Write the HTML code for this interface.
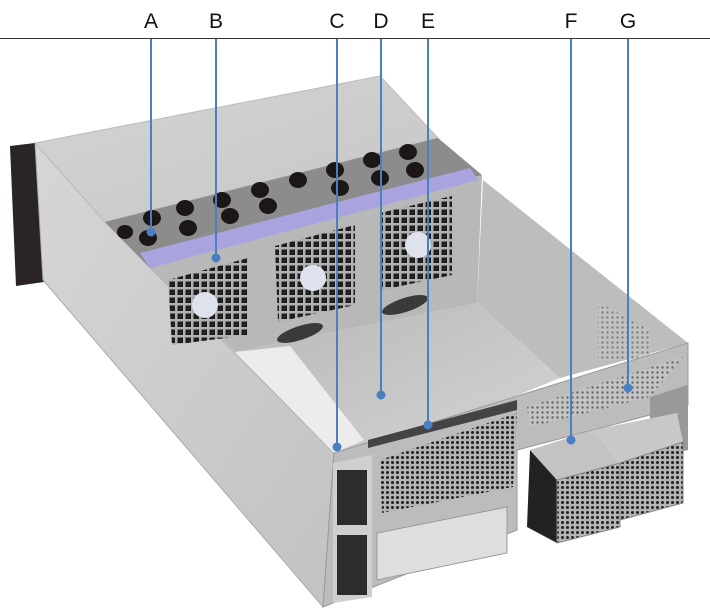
<!DOCTYPE html>
<html><head><meta charset="utf-8"><style>
html,body{margin:0;padding:0;background:#fff;}
svg{display:block;}
text{font-family:"Liberation Sans",sans-serif;font-size:21px;fill:#111;}
</style></head><body>
<svg width="710" height="612" viewBox="0 0 710 612" xmlns="http://www.w3.org/2000/svg">
<defs>
<linearGradient id="side" x1="0" y1="0" x2="1" y2="1"><stop offset="0" stop-color="#d6d6d6"/><stop offset="1" stop-color="#c2c2c2"/></linearGradient>
<linearGradient id="lid" x1="0" y1="0" x2="1" y2="1"><stop offset="0" stop-color="#d4d4d4"/><stop offset="1" stop-color="#c6c6c6"/></linearGradient>
<linearGradient id="floor" x1="0" y1="0" x2="1" y2="1"><stop offset="0" stop-color="#b8b8b8"/><stop offset="1" stop-color="#d4d4d4"/></linearGradient>
<pattern id="hex" width="5" height="5" patternUnits="userSpaceOnUse"><rect width="5" height="5" fill="#b5b5b5"/><circle cx="2.5" cy="2.5" r="1.5" fill="#222"/></pattern>
<pattern id="hexl" width="5" height="5" patternUnits="userSpaceOnUse"><rect width="5" height="5" fill="#c4c4c4"/><circle cx="2.5" cy="2.5" r="1.2" fill="#666"/></pattern>
<pattern id="grid" width="8" height="8" patternUnits="userSpaceOnUse"><rect width="8" height="8" fill="#b0b0b0"/><rect x="1.5" y="1.5" width="5.5" height="5.5" fill="#1e1e1e"/></pattern>
</defs>
<!-- rack ear -->
<polygon points="10,146 35,143 44,282 16,286" fill="#2a2424"/>
<!-- left side panel -->
<polygon points="35,143 105,222 334,453 323,607 43,280" fill="url(#side)" stroke="#aaa"/>
<!-- lid -->
<polygon points="35,143 380,76 438,138 105,222" fill="url(#lid)" stroke="#bbb"/>
<!-- holes panel -->
<polygon points="105,222 438,138 482,175 150,268" fill="#8c8c8c"/>
<g fill="#1c1616">
<ellipse cx="125" cy="232" rx="8" ry="7"/><ellipse cx="152" cy="218" rx="9" ry="8"/><ellipse cx="185" cy="208" rx="9" ry="8"/><ellipse cx="222" cy="200" rx="9" ry="8"/><ellipse cx="260" cy="190" rx="9" ry="8"/><ellipse cx="298" cy="180" rx="9" ry="8"/><ellipse cx="335" cy="170" rx="9" ry="8"/><ellipse cx="372" cy="160" rx="9" ry="8"/><ellipse cx="408" cy="152" rx="9" ry="8"/>
<ellipse cx="148" cy="238" rx="9" ry="8"/><ellipse cx="188" cy="228" rx="9" ry="8"/><ellipse cx="230" cy="216" rx="9" ry="8"/><ellipse cx="268" cy="206" rx="9" ry="8"/><ellipse cx="340" cy="188" rx="9" ry="8"/><ellipse cx="380" cy="178" rx="9" ry="8"/><ellipse cx="415" cy="170" rx="9" ry="8"/>
</g>
<!-- interior right wall -->
<polygon points="483,180 688,343 560,378 477,303" fill="#bdbdbd"/>
<polygon points="598,302 650,330 650,360 598,360" fill="url(#hexl)" opacity=".7"/>
<!-- floor -->
<polygon points="235,352 477,303 560,378 407,440 345,452" fill="url(#floor)"/>
<polygon points="235,352 290,346 364,440 334,453" fill="#ececec"/>
<!-- fan wall -->
<polygon points="150,267 482,175 477,303 235,352" fill="#b8b8b8"/>
<polygon points="140,253 470,168 478,180 150,268" fill="#aaa4de"/>
<polygon points="168,280 248,258 248,335 172,345" fill="url(#grid)"/>
<polygon points="275,246 355,225 355,305 278,322" fill="url(#grid)"/>
<polygon points="380,213 452,196 452,275 382,290" fill="url(#grid)"/>
<circle cx="205" cy="305" r="13" fill="#dde2ec"/><circle cx="313" cy="278" r="13" fill="#dde2ec"/><circle cx="418" cy="245" r="13" fill="#dde2ec"/>
<ellipse cx="300" cy="333" rx="24" ry="7" fill="#3a3a3a" transform="rotate(-18 300 333)"/>
<ellipse cx="405" cy="305" rx="24" ry="7" fill="#3a3a3a" transform="rotate(-18 405 305)"/>
<!-- front face -->
<polygon points="334,453 688,343 688,405 517,450 517,530 323,607" fill="#bcbcbc" stroke="#999"/>
<polygon points="368,440 517,400 517,410 368,448" fill="#444"/>
<polygon points="527,407 683,357 650,397 530,427" fill="url(#hexl)"/>
<polygon points="333,463 372,455 372,597 333,603" fill="#cfcfcf"/>
<rect x="337" y="470" width="30" height="55" fill="#2c2c2c"/>
<rect x="337" y="535" width="30" height="60" fill="#2c2c2c"/>
<polygon points="380,460 517,413 513,487 382,513" fill="url(#hex)"/>
<polygon points="377,533 507,507 507,553 377,580" fill="#dedede" stroke="#999"/>
<polygon points="650,397 688,385 688,450 650,460" fill="#999"/>
<!-- PSUs -->
<polygon points="530,450 557,480 557,543 527,527" fill="#222"/>
<polygon points="530,450 593,430 620,463 557,480" fill="#c3c3c3"/>
<polygon points="593,430 677,413 683,442 620,463" fill="#c8c8c8"/>
<polygon points="557,480 620,463 620,527 557,543" fill="url(#hex)" stroke="#888"/>
<polygon points="620,463 683,442 683,503 620,520" fill="url(#hex)" stroke="#888"/>
<!-- header -->
<line x1="0" y1="38.5" x2="710" y2="38.5" stroke="#333" stroke-width="1"/>
<text x="151" y="28" text-anchor="middle">A</text>
<text x="216" y="28" text-anchor="middle">B</text>
<text x="337" y="28" text-anchor="middle">C</text>
<text x="381" y="28" text-anchor="middle">D</text>
<text x="428" y="28" text-anchor="middle">E</text>
<text x="571" y="28" text-anchor="middle">F</text>
<text x="628" y="28" text-anchor="middle">G</text>
<g stroke="#4a7fc1" stroke-width="2" fill="#4a7fc1">
<line x1="151" y1="39" x2="151" y2="232"/><circle cx="151" cy="232" r="3.5"/>
<line x1="216" y1="39" x2="216" y2="258"/><circle cx="216" cy="258" r="3.5"/>
<line x1="337" y1="39" x2="337" y2="447"/><circle cx="337" cy="447" r="3.5"/>
<line x1="381" y1="39" x2="381" y2="395"/><circle cx="381" cy="395" r="3.5"/>
<line x1="428" y1="39" x2="428" y2="425"/><circle cx="428" cy="425" r="3.5"/>
<line x1="571" y1="39" x2="571" y2="440"/><circle cx="571" cy="440" r="3.5"/>
<line x1="628" y1="39" x2="628" y2="388"/><circle cx="628" cy="388" r="3.5"/>
</g>
</svg>
</body></html>
